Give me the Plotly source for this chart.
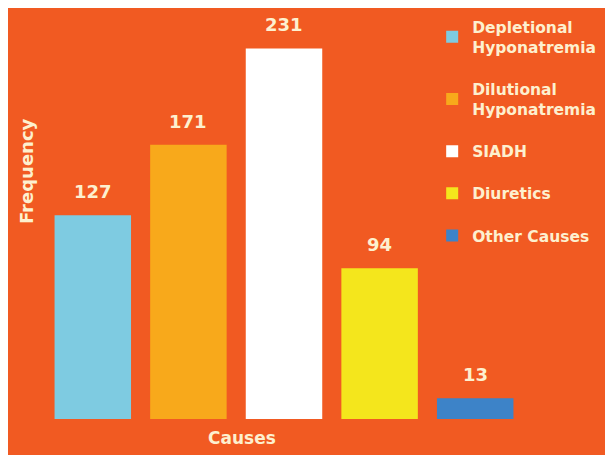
import plotly.graph_objects as go

# Causes of hyponatremia
causes = ['Depletional<br>Hyponatremia', 'Dilutional<br>Hyponatremia', 'SIADH', 'Diuretics', 'Other Causes']
frequency = [127, 171, 231, 94, 13]
bar_colors = ['#7ecbe1', '#f8a91b', '#ffffff', '#f4e61c', '#3d83c8']

bg = '#f15a22'
cream = '#fdf0cf'
font_family = 'DejaVu Sans, sans-serif'

fig = go.Figure()
for i, (cause, val, col) in enumerate(zip(causes, frequency, bar_colors)):
    fig.add_trace(go.Bar(
        x=[i], y=[val],
        name='<b>' + cause.replace('<br>', '</b><br><b>') + '</b>',
        marker=dict(color=col, line=dict(width=0)),
        width=0.8,
        legendgroup=str(i),
        hoverinfo='y'
    ))
    # value label above each bar
    fig.add_annotation(
        x=i, y=val, text=f'<b>{val}</b>',
        showarrow=False, yanchor='bottom', yshift=11,
        font=dict(size=18, color=cream, family=font_family)
    )

fig.add_annotation(
    text='<b>Frequency</b>', xref='paper', yref='paper',
    x=-0.040, y=0.606, textangle=-90, showarrow=False,
    xanchor='center', yanchor='middle',
    font=dict(size=18, color=cream, family=font_family)
)
fig.add_annotation(
    text='<b>Causes</b>', xref='paper', yref='paper',
    x=0.412, y=-0.046, showarrow=False,
    xanchor='center', yanchor='middle',
    font=dict(size=17, color=cream, family=font_family)
)

# the page's default 8px margin gives the white edge at top and left
fig.update_layout(
    width=613,
    height=455,
    margin=dict(l=37, r=98, t=2, b=44),
    paper_bgcolor=bg,
    plot_bgcolor=bg,
    barmode='overlay',
    showlegend=True,
    legend=dict(
        x=0.81, y=1.0, xanchor='left', yanchor='top',
        bgcolor='rgba(0,0,0,0)',
        font=dict(size=15.5, color=cream, family=font_family),
        tracegroupgap=19,
        itemwidth=30
    ),
    xaxis=dict(
        range=[-0.5, 4.5], showticklabels=False, showgrid=False,
        zeroline=False, showline=False, ticks=''
    ),
    yaxis=dict(
        range=[0, 255], showticklabels=False, showgrid=False,
        zeroline=False, showline=False, ticks=''
    ),
)

fig.write_html("out.html")
